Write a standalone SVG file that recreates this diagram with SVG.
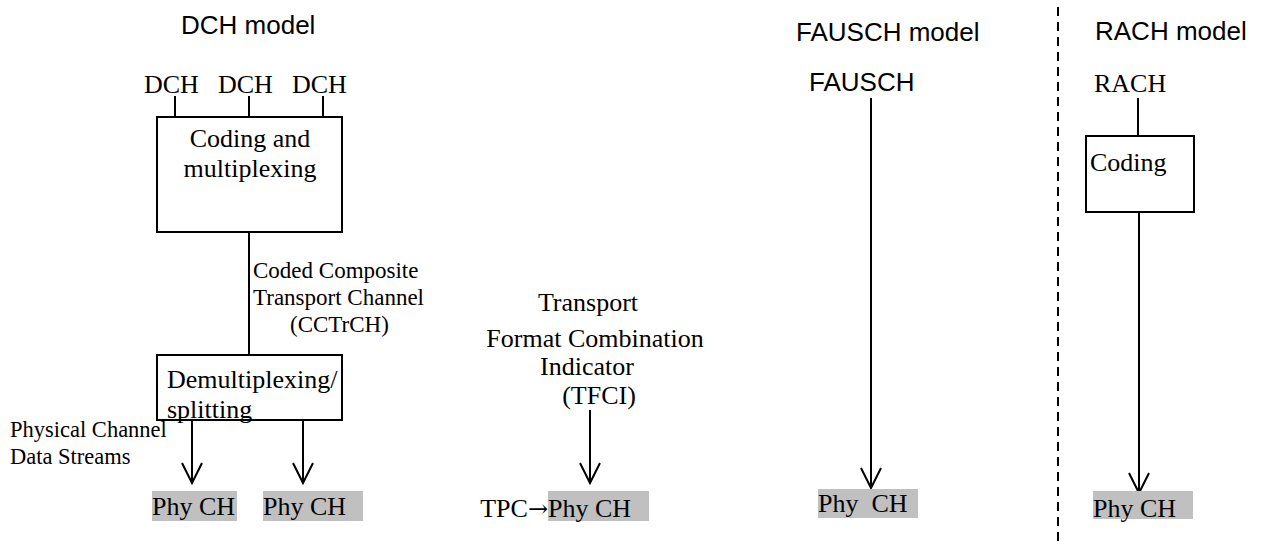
<svg xmlns="http://www.w3.org/2000/svg" width="1279" height="546" viewBox="0 0 1279 546">
  <style>
    .title { font-family: "Liberation Sans", Arial, sans-serif; font-size: 26px; fill: #000; }
    .serif { font-family: "Liberation Serif", "Times New Roman", serif; font-size: 26px; fill: #000; }
    .small { font-size: 23px; }
    .tiny { font-size: 22.5px; }
    .box { fill: #fff; stroke: #000; stroke-width: 2; }
    .phy { fill: #c0c0c0; stroke: none; }
    .wire { stroke: #000; stroke-width: 2; fill: none; }
    .arrow { stroke: #000; stroke-width: 2; fill: none; marker-end: url(#openHead); }
    .divider { stroke: #000; stroke-width: 2; stroke-dasharray: 9 6; fill: none; }
  </style>
  <defs>
    <marker id="openHead" markerUnits="userSpaceOnUse" viewBox="-23 -12 25 24" markerWidth="25" markerHeight="24" refX="0" refY="0" orient="auto" overflow="visible">
      <path d="M-20,-10 L0,0 L-20,10" fill="none" stroke="#000" stroke-width="2"/>
    </marker>
  </defs>

  <rect width="1279" height="546" fill="#fff"/>

  <!-- section titles -->
  <g id="titles">
    <text class="title" x="181" y="34">DCH model</text>
    <text class="title" x="796" y="41">FAUSCH model</text>
    <text class="title" x="1095" y="40">RACH model</text>
  </g>

  <!-- separator between FAUSCH and RACH -->
  <line class="divider" x1="1058" y1="7" x2="1058" y2="546"/>

  <!-- connectors -->
  <g id="connectors">
    <line class="wire" x1="175" y1="96" x2="175" y2="117"/>
    <line class="wire" x1="249" y1="96" x2="249" y2="117"/>
    <line class="wire" x1="323" y1="96" x2="323" y2="117"/>
    <line class="wire" x1="249" y1="232" x2="249" y2="355"/>
    <line class="arrow" x1="192" y1="420" x2="192" y2="483"/>
    <line class="arrow" x1="303" y1="420" x2="303" y2="483"/>
    <line class="arrow" x1="590" y1="410" x2="590" y2="483"/>
    <line class="arrow" x1="871" y1="98" x2="871" y2="488"/>
    <line class="wire" x1="1138" y1="98" x2="1138" y2="136"/>
    <line class="arrow" x1="1139" y1="212" x2="1139" y2="493"/>
  </g>

  <!-- DCH model -->
  <g id="dch-inputs">
    <text class="serif" x="144" y="93">DCH</text>
    <text class="serif" x="218" y="93">DCH</text>
    <text class="serif" x="292" y="93">DCH</text>
  </g>
  <g id="coding-mux">
    <rect class="box" x="157" y="117" width="185" height="115"/>
    <text class="serif" x="250" y="147" text-anchor="middle">Coding and</text>
    <text class="serif" x="250" y="177" text-anchor="middle">multiplexing</text>
  </g>
  <g id="cctrch-label">
    <text class="serif small" x="253" y="278">Coded Composite</text>
    <text class="serif small" x="253" y="305">Transport Channel</text>
    <text class="serif small" x="290" y="332">(CCTrCH)</text>
  </g>
  <g id="demux">
    <rect class="box" x="157" y="355" width="185" height="65"/>
    <text class="serif" x="167" y="388">Demultiplexing/</text>
    <text class="serif" x="167" y="418">splitting</text>
  </g>
  <g id="phys-streams-label">
    <text class="serif tiny" x="10" y="437">Physical Channel</text>
    <text class="serif tiny" x="10" y="464">Data Streams</text>
  </g>
  <g id="dch-phy-1">
    <rect class="phy" x="152" y="491" width="85" height="30"/>
    <text class="serif" x="152" y="515">Phy CH</text>
  </g>
  <g id="dch-phy-2">
    <rect class="phy" x="263" y="491" width="100" height="30"/>
    <text class="serif" x="263" y="515">Phy CH</text>
  </g>

  <!-- TFCI -->
  <g id="tfci-label">
    <text class="serif" x="588" y="311" text-anchor="middle">Transport</text>
    <text class="serif" x="595" y="347" text-anchor="middle">Format Combination</text>
    <text class="serif" x="587" y="375" text-anchor="middle">Indicator</text>
    <text class="serif" x="599" y="404" text-anchor="middle">(TFCI)</text>
  </g>
  <g id="tfci-phy">
    <rect class="phy" x="548" y="491" width="101" height="30"/>
    <text class="serif" x="548" y="517" text-anchor="end">TPC<tspan font-family="'DejaVu Serif', serif" font-size="24">→</tspan></text>
    <text class="serif" x="548" y="517">Phy CH</text>
  </g>

  <!-- FAUSCH model -->
  <g id="fausch-input">
    <text class="title" x="809" y="91" font-size="27">FAUSCH</text>
  </g>
  <g id="fausch-phy">
    <rect class="phy" x="818" y="489" width="100" height="29"/>
    <text class="serif" x="818" y="512" style="white-space:pre">Phy  CH</text>
  </g>

  <!-- RACH model -->
  <g id="rach-input">
    <text class="serif" x="1094" y="92">RACH</text>
  </g>
  <g id="rach-coding">
    <rect class="box" x="1086" y="136" width="108" height="76"/>
    <text class="serif" x="1090" y="171">Coding</text>
  </g>
  <g id="rach-phy">
    <rect class="phy" x="1093" y="491" width="100" height="28"/>
    <text class="serif" x="1093" y="517">Phy CH</text>
  </g>
</svg>
